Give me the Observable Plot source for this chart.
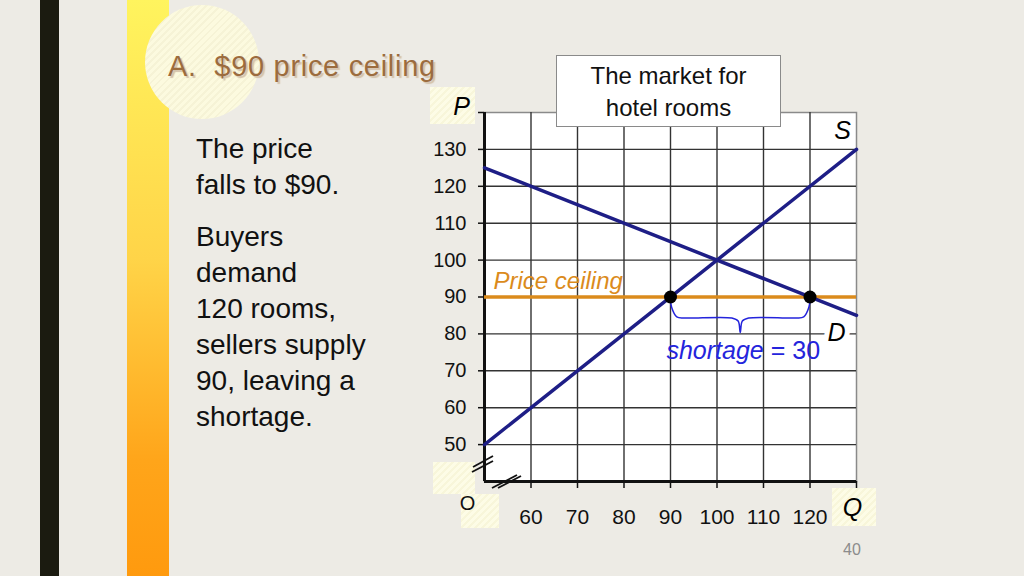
<!DOCTYPE html>
<html><head><meta charset="utf-8">
<script src="https://cdn.jsdelivr.net/npm/d3@7"></script>
<script src="https://cdn.jsdelivr.net/npm/@observablehq/plot@0.6"></script>
<style>
body{margin:0;background:#EDEBE5;}
#slide{position:relative;width:1024px;height:576px;overflow:hidden;background:#EDEBE5;font-family:"Liberation Sans",Arial,sans-serif;}
.abs{position:absolute;}
#blackbar{left:40px;top:0;width:19px;height:576px;background:#1B1B10;}
#ybar{left:127px;top:0;width:42px;height:576px;background:linear-gradient(#FFF45E,#FFD448 45%,#FFA51A 80%,#FF9A0E);}
#circle{left:145px;top:5px;width:114px;height:114px;border-radius:50%;background:repeating-linear-gradient(135deg,#FCFADF 0 3px,#F6F3D6 3px 5px);}
#title{left:168px;top:50px;font-size:29px;letter-spacing:0.7px;color:#9C6C3E;text-shadow:2px 2px 1px #D4C3AC;white-space:pre;}
#body{left:196px;top:131px;font-size:28px;line-height:36px;color:#111;}
#body p{margin:0 0 16px 0;}
.hatch{background:repeating-linear-gradient(135deg,#FDFCE6 0 3px,#F8F6DA 3px 5px);}
#plot{left:0;top:0;}
#mkt{left:556px;top:55px;width:225px;height:72px;background:#fff;border:1px solid #8a8a8a;font-size:24px;line-height:32px;text-align:center;color:#111;padding-top:4px;box-sizing:border-box;}
#pg{left:843px;top:541px;font-size:16px;color:#8c8c8c;}
</style></head><body>
<div id="slide">
  <div class="abs" id="blackbar"></div>
  <div class="abs" id="ybar"></div>
  <div class="abs" id="circle"></div>
  <div class="abs" id="title">A.  $90 price ceiling</div>
  <div class="abs" id="body"><p>The price<br>falls to $90.</p><p>Buyers<br>demand<br>120 rooms,<br>sellers supply<br>90, leaving a<br>shortage.</p></div>
  <div class="abs hatch" style="left:430px;top:87px;width:45px;height:37px;"></div>
  <div class="abs hatch" style="left:433px;top:462px;width:42px;height:32px;"></div>
  <div class="abs hatch" style="left:461px;top:494px;width:38px;height:34px;"></div>
  <div class="abs hatch" style="left:832px;top:488px;width:44px;height:38px;"></div>
  <div class="abs" id="plot"></div>
  <div class="abs" id="mkt">The market for<br>hotel rooms</div>
  <div class="abs" id="pg">40</div>
</div>
<script>
// ---- data ----
const quantityTicks = [60, 70, 80, 90, 100, 110, 120, 130];
const priceTicks = [50, 60, 70, 80, 90, 100, 110, 120, 130, 140];
const supplyQ = [50, 130];
const supplyP = [50, 130];
const demandQ = [50, 130];
const demandP = [125, 85];
const ceilingPrice = 90;
const quantitySupplied = 90;
const quantityDemanded = 120;
const shortageLabel = "shortage = 30";

const supply = supplyQ.map((q, i) => ({q, p: supplyP[i]}));
const demand = demandQ.map((q, i) => ({q, p: demandP[i]}));
const points = [{q: quantitySupplied, p: ceilingPrice}, {q: quantityDemanded, p: ceilingPrice}];

// brace under the shortage, built from the two quantities
function braceShape(a, b, top) {
  const w = b - a;
  const s = [[0, 0.5], [0.008, -1.8], [0.045, -4.4], [0.1, -4.7], [0.44, -4.7], [0.485, -5.5], [0.5, -8.6]];
  const left = s.map(([t, d]) => ({q: a + t * w, p: top + d}));
  const right = s.slice(0, -1).reverse().map(([t, d]) => ({q: b - t * w, p: top + d}));
  return left.concat(right);
}
const brace = braceShape(quantitySupplied, quantityDemanded, ceilingPrice - 1);

const navy = "#1E1E86", orange = "#DB8B1C", blue = "#2424DC";

const chart = Plot.plot({
  width: 1024, height: 576,
  marginLeft: 484, marginRight: 168, marginTop: 112, marginBottom: 95,
  x: {domain: [50, 130]},
  y: {domain: [40, 140]},
  style: {background: "transparent", fontFamily: "'Liberation Sans', Arial, sans-serif", color: "#111", overflow: "visible"},
  marks: [
    Plot.frame({fill: "white", stroke: "#8a8a8a", strokeWidth: 1.5}),
    Plot.ruleX(quantityTicks.filter(d => d < 130), {stroke: "#333", strokeWidth: 1.4}),
    Plot.ruleY(priceTicks.filter(d => d < 140), {stroke: "#333", strokeWidth: 1.4}),
    Plot.ruleX([50], {stroke: "#111", strokeWidth: 3}),
    Plot.ruleY([40], {stroke: "#111", strokeWidth: 3}),
    Plot.axisX(quantityTicks, {label: null, tickSize: 7, tickPadding: 21, fontSize: 21, tickFormat: d => d === 130 ? "" : d, strokeWidth: 1.5}),
    Plot.axisY(priceTicks, {label: null, tickSize: 6, tickPadding: 12, fontSize: 20, tickFormat: d => d === 140 ? "" : d, strokeWidth: 1.5}),
    Plot.ruleY([ceilingPrice], {stroke: orange, strokeWidth: 3.5}),
    Plot.line(supply, {x: "q", y: "p", stroke: navy, strokeWidth: 3.5}),
    Plot.line(demand, {x: "q", y: "p", stroke: navy, strokeWidth: 3.5}),
    Plot.line(brace, {x: "q", y: "p", stroke: blue, strokeWidth: 1.5, curve: "catmull-rom"}),
    Plot.dot(points, {x: "q", y: "p", r: 6.5, fill: "#000"}),
    Plot.text(["Price ceiling"], {x: 50, y: ceilingPrice, dx: 9, dy: -16, textAnchor: "start", fill: orange, fontSize: 24, fontStyle: "italic"}),
    Plot.text(["S"], {x: 130, y: 140, dx: -14, dy: 18, fill: "#000", fontSize: 25, fontStyle: "italic"}),
    Plot.text(["D"], {x: 130, y: 80, dx: -20, dy: -1, fill: "#000", fontSize: 25, fontStyle: "italic", stroke: "white", strokeWidth: 10, paintOrder: "stroke"}),
    Plot.text([shortageLabel], {x: (quantitySupplied + quantityDemanded) / 2, y: 75.5, dx: 3, fill: blue, fontSize: 25}),
    Plot.text(["P"], {x: 50, y: 140, dx: -23, dy: -6, fill: "#000", fontSize: 25, fontStyle: "italic"}),
    Plot.text(["Q"], {x: 130, y: 40, dx: -4, dy: 26, fill: "#000", fontSize: 25, fontStyle: "italic"}),
    Plot.text(["O"], {x: 50, y: 40, dx: -17, dy: 22, fill: "#111", fontSize: 20})
  ]
});

// italic "shortage" part
chart.querySelectorAll("text").forEach(t => {
  if (t.textContent === shortageLabel) {
    const w = shortageLabel.split(" ")[0], rest = shortageLabel.slice(shortageLabel.indexOf(" "));
    t.textContent = "";
    const ns = "http://www.w3.org/2000/svg";
    const a = document.createElementNS(ns, "tspan"); a.setAttribute("font-style", "italic"); a.textContent = w;
    const b = document.createElementNS(ns, "tspan"); b.textContent = rest;
    t.append(a, b);
  }
});

// axis break marks
const ns = "http://www.w3.org/2000/svg";
const g = document.createElementNS(ns, "g");
g.setAttribute("stroke", "#111"); g.setAttribute("stroke-width", "1.8");
[[472,472,493,461],[473,467,493,456],[492,488,517,475],[498,488,521,476]].forEach(([x1,y1,x2,y2]) => {
  const l = document.createElementNS(ns, "line");
  l.setAttribute("x1", x1); l.setAttribute("y1", y1); l.setAttribute("x2", x2); l.setAttribute("y2", y2);
  g.append(l);
});
chart.append(g);
document.getElementById("plot").append(chart);
</script>
</body></html>
